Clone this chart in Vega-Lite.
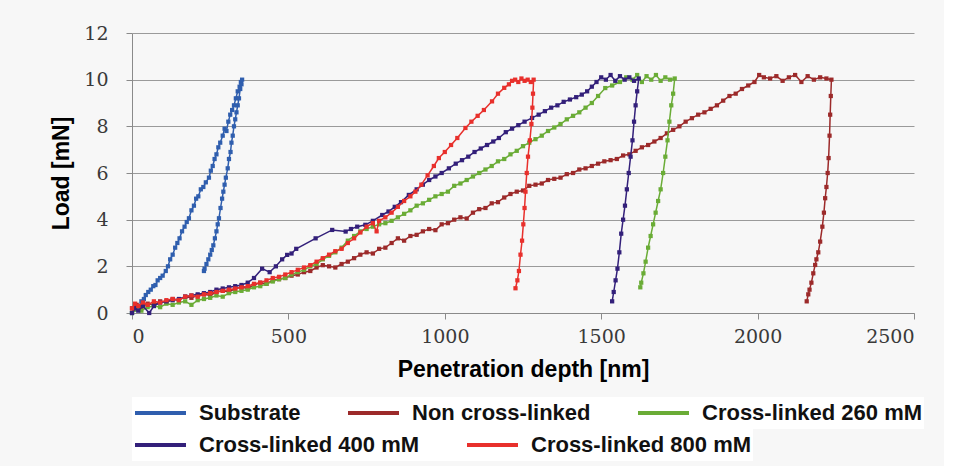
{
  "$schema": "https://vega.github.io/schema/vega-lite/v6.json",
  "width": 782,
  "height": 280,
  "padding": {"left": 50, "top": 24, "right": 20, "bottom": 5},
  "background": "#f7f7f7",
  "config": {
    "view": {"stroke": null},
    "axis": {
      "labelFont": "DejaVu Serif",
      "labelFontSize": 19,
      "labelColor": "#3a3a3a",
      "titleFont": "Liberation Sans",
      "titleFontSize": 23,
      "titleFontWeight": "bold",
      "titleColor": "#000000",
      "domainColor": "#8a8a8a",
      "tickColor": "#8a8a8a",
      "gridColor": "#9a9a9a",
      "gridWidth": 1,
      "tickSize": 6
    },
    "legend": {
      "orient": "bottom",
      "direction": "horizontal",
      "title": null,
      "labelFont": "Liberation Sans",
      "labelFontSize": 22,
      "labelFontWeight": "bold",
      "labelColor": "#111111",
      "labelOffset": 11,
      "symbolType": "stroke",
      "symbolSize": 2600,
      "symbolStrokeWidth": 4,
      "columnPadding": 45,
      "clipHeight": 30,
      "fillColor": "white",
      "padding": 1,
      "offset": 16,
      "labelLimit": 400,
      "layout": {"bottom": {"direction": "vertical", "anchor": "start", "margin": 0}}
    }
  },
  "encoding": {
    "x": {
      "field": "x",
      "type": "quantitative",
      "scale": {"domain": [0, 2500], "nice": false},
      "axis": {"values": [0, 500, 1000, 1500, 2000, 2500], "format": "d", "grid": false, "title": "Penetration depth [nm]", "labelPadding": 8, "titlePadding": 12}
    },
    "y": {
      "field": "y",
      "type": "quantitative",
      "scale": {"domain": [0, 12], "nice": false},
      "axis": {"values": [0, 2, 4, 6, 8, 10, 12], "grid": true, "title": "Load [mN]", "labelPadding": 18, "titlePadding": 10}
    },
    "order": {"value": null}
  },
  "layer": [
    {
      "data": {"values": [
        {"x":0,"y":0},{"x":8,"y":0.15},{"x":15,"y":0.3},{"x":22,"y":0.25},{"x":30,"y":0.5},{"x":38,"y":0.6},{"x":44,"y":0.77},{"x":52,"y":0.9},{"x":60,"y":1.0},{"x":68,"y":1.15},{"x":75,"y":1.2},{"x":82,"y":1.4},{"x":90,"y":1.5},{"x":98,"y":1.6},{"x":108,"y":1.8},{"x":115,"y":2.0},{"x":122,"y":2.3},{"x":130,"y":2.5},{"x":138,"y":2.8},{"x":145,"y":3.0},{"x":152,"y":3.2},{"x":160,"y":3.5},{"x":168,"y":3.7},{"x":175,"y":3.9},{"x":182,"y":4.06},{"x":190,"y":4.4},{"x":198,"y":4.6},{"x":205,"y":4.9},{"x":212,"y":5.0},{"x":220,"y":5.3},{"x":228,"y":5.4},{"x":236,"y":5.6},{"x":246,"y":5.8},{"x":252,"y":6.1},{"x":258,"y":6.3},{"x":264,"y":6.6},{"x":270,"y":6.8},{"x":276,"y":7.1},{"x":282,"y":7.3},{"x":290,"y":7.6},{"x":296,"y":7.9},{"x":302,"y":7.8},{"x":308,"y":8.2},{"x":314,"y":8.5},{"x":320,"y":8.7},{"x":326,"y":8.9},{"x":332,"y":9.2},{"x":338,"y":9.5},{"x":344,"y":9.7},{"x":348,"y":9.9},{"x":352,"y":10.0},
        {"x":350,"y":9.8},{"x":346,"y":9.6},{"x":342,"y":9.2},{"x":338,"y":8.9},{"x":334,"y":8.6},{"x":330,"y":8.3},{"x":326,"y":8.0},{"x":322,"y":7.6},{"x":318,"y":7.3},{"x":315,"y":6.9},{"x":310,"y":6.6},{"x":306,"y":6.2},{"x":300,"y":5.8},{"x":296,"y":5.5},{"x":292,"y":5.2},{"x":288,"y":4.9},{"x":283,"y":4.5},{"x":278,"y":4.06},{"x":274,"y":3.8},{"x":270,"y":3.5},{"x":265,"y":3.2},{"x":260,"y":2.9},{"x":255,"y":2.7},{"x":250,"y":2.5},{"x":244,"y":2.3},{"x":238,"y":2.1},{"x":232,"y":1.9},{"x":230,"y":1.8}
      ]},
      "mark": {"type": "line", "strokeWidth": 1.5, "point": {"shape": "square", "size": 18, "filled": true}},
      "encoding": {
        "color": {
          "datum": "Substrate",
          "type": "nominal",
          "scale": {
            "domain": ["Substrate", "Non cross-linked", "Cross-linked 260 mM"],
            "range": ["#2f5eae", "#9c2a2a", "#6aac36"]
          }
        }
      }
    },
    {
      "data": {"values": [
        {"x":0,"y":0.2},{"x":15,"y":0.35},{"x":30,"y":0.25},{"x":50,"y":0.4},{"x":70,"y":0.35},{"x":90,"y":0.5},{"x":110,"y":0.45},{"x":130,"y":0.6},{"x":150,"y":0.55},{"x":170,"y":0.7},{"x":190,"y":0.65},{"x":210,"y":0.75},{"x":230,"y":0.8},{"x":250,"y":0.75},{"x":270,"y":0.9},{"x":290,"y":0.95},{"x":310,"y":0.9},{"x":330,"y":1.05},{"x":350,"y":1.1},{"x":370,"y":1.05},{"x":390,"y":1.2},{"x":410,"y":1.3},{"x":430,"y":1.25},{"x":450,"y":1.4},{"x":470,"y":1.45},{"x":490,"y":1.5},{"x":510,"y":1.6},{"x":530,"y":1.65},{"x":550,"y":1.75},{"x":570,"y":1.8},{"x":590,"y":1.95},{"x":610,"y":2.05},{"x":630,"y":2.0},{"x":650,"y":1.95},{"x":670,"y":2.1},{"x":690,"y":2.2},{"x":710,"y":2.35},{"x":730,"y":2.5},{"x":750,"y":2.6},{"x":770,"y":2.55},{"x":790,"y":2.75},{"x":810,"y":2.8},{"x":830,"y":3.0},{"x":850,"y":3.2},{"x":870,"y":3.1},{"x":890,"y":3.3},{"x":910,"y":3.35},{"x":930,"y":3.5},{"x":950,"y":3.6},{"x":970,"y":3.55},{"x":990,"y":3.8},{"x":1010,"y":3.85},{"x":1030,"y":4.0},{"x":1050,"y":4.1},{"x":1070,"y":4.05},{"x":1090,"y":4.3},{"x":1110,"y":4.45},{"x":1130,"y":4.5},{"x":1150,"y":4.7},{"x":1170,"y":4.75},{"x":1190,"y":4.95},{"x":1210,"y":5.1},{"x":1230,"y":5.2},{"x":1250,"y":5.25},{"x":1270,"y":5.45},{"x":1290,"y":5.5},{"x":1310,"y":5.55},{"x":1330,"y":5.7},{"x":1350,"y":5.75},{"x":1370,"y":5.8},{"x":1390,"y":5.95},{"x":1410,"y":6.0},{"x":1430,"y":6.15},{"x":1450,"y":6.2},{"x":1470,"y":6.3},{"x":1490,"y":6.4},{"x":1510,"y":6.5},{"x":1530,"y":6.55},{"x":1550,"y":6.6},{"x":1570,"y":6.75},{"x":1590,"y":6.8},{"x":1610,"y":6.95},{"x":1630,"y":7.1},{"x":1650,"y":7.2},{"x":1670,"y":7.35},{"x":1690,"y":7.5},{"x":1710,"y":7.7},{"x":1730,"y":7.85},{"x":1750,"y":8.0},{"x":1770,"y":8.2},{"x":1790,"y":8.35},{"x":1810,"y":8.5},{"x":1830,"y":8.6},{"x":1850,"y":8.75},{"x":1870,"y":8.9},{"x":1890,"y":9.1},{"x":1910,"y":9.3},{"x":1930,"y":9.4},{"x":1950,"y":9.6},{"x":1970,"y":9.75},{"x":1990,"y":9.9},{"x":2005,"y":10.2},{"x":2020,"y":10.1},{"x":2040,"y":10.05},{"x":2060,"y":10.15},{"x":2080,"y":9.95},{"x":2100,"y":10.1},{"x":2120,"y":10.2},{"x":2140,"y":9.9},{"x":2160,"y":10.15},{"x":2180,"y":10.0},{"x":2200,"y":10.1},{"x":2220,"y":10.05},{"x":2236,"y":10.0},
        {"x":2234,"y":9.3},{"x":2232,"y":8.5},{"x":2230,"y":7.6},{"x":2227,"y":6.64},{"x":2224,"y":6.0},{"x":2220,"y":5.4},{"x":2216,"y":4.92},{"x":2212,"y":4.3},{"x":2207,"y":3.7},{"x":2200,"y":3.06},{"x":2194,"y":2.6},{"x":2188,"y":2.3},{"x":2184,"y":2.06},{"x":2178,"y":1.7},{"x":2172,"y":1.3},{"x":2166,"y":1.0},{"x":2162,"y":0.8},{"x":2157,"y":0.5}
      ]},
      "mark": {"type": "line", "strokeWidth": 1.5, "point": {"shape": "square", "size": 18, "filled": true}},
      "encoding": {"color": {"datum": "Non cross-linked", "type": "nominal"}}
    },
    {
      "data": {"values": [
        {"x":0,"y":0},{"x":15,"y":0.15},{"x":30,"y":0.1},{"x":50,"y":0.25},{"x":70,"y":0.3},{"x":90,"y":0.25},{"x":110,"y":0.4},{"x":130,"y":0.35},{"x":150,"y":0.45},{"x":170,"y":0.5},{"x":190,"y":0.35},{"x":210,"y":0.55},{"x":230,"y":0.6},{"x":250,"y":0.65},{"x":270,"y":0.75},{"x":290,"y":0.7},{"x":310,"y":0.85},{"x":330,"y":0.9},{"x":350,"y":0.95},{"x":370,"y":1.0},{"x":390,"y":1.1},{"x":410,"y":1.15},{"x":430,"y":1.25},{"x":450,"y":1.35},{"x":470,"y":1.45},{"x":490,"y":1.5},{"x":510,"y":1.65},{"x":530,"y":1.75},{"x":550,"y":1.85},{"x":570,"y":2.0},{"x":590,"y":2.1},{"x":610,"y":2.3},{"x":630,"y":2.45},{"x":650,"y":2.6},{"x":670,"y":2.8},{"x":690,"y":3.1},{"x":710,"y":3.3},{"x":730,"y":3.5},{"x":750,"y":3.6},{"x":770,"y":3.7},{"x":790,"y":3.8},{"x":810,"y":3.85},{"x":830,"y":3.95},{"x":850,"y":4.1},{"x":870,"y":4.25},{"x":890,"y":4.4},{"x":910,"y":4.6},{"x":930,"y":4.7},{"x":950,"y":4.85},{"x":970,"y":5.0},{"x":990,"y":5.1},{"x":1010,"y":5.2},{"x":1030,"y":5.45},{"x":1050,"y":5.55},{"x":1070,"y":5.7},{"x":1090,"y":5.85},{"x":1110,"y":6.0},{"x":1130,"y":6.15},{"x":1150,"y":6.3},{"x":1170,"y":6.5},{"x":1190,"y":6.6},{"x":1210,"y":6.8},{"x":1230,"y":6.95},{"x":1250,"y":7.15},{"x":1270,"y":7.3},{"x":1290,"y":7.45},{"x":1310,"y":7.6},{"x":1330,"y":7.8},{"x":1350,"y":7.95},{"x":1370,"y":8.1},{"x":1390,"y":8.3},{"x":1410,"y":8.45},{"x":1430,"y":8.6},{"x":1450,"y":8.8},{"x":1470,"y":9.0},{"x":1490,"y":9.3},{"x":1513,"y":9.64},{"x":1535,"y":9.75},{"x":1560,"y":9.9},{"x":1580,"y":10.1},{"x":1600,"y":10.0},{"x":1615,"y":10.2},{"x":1630,"y":9.9},{"x":1645,"y":10.15},{"x":1660,"y":10.0},{"x":1675,"y":10.2},{"x":1690,"y":9.95},{"x":1705,"y":10.1},{"x":1720,"y":10.0},{"x":1735,"y":10.05},
        {"x":1730,"y":9.4},{"x":1724,"y":8.9},{"x":1718,"y":8.2},{"x":1712,"y":7.4},{"x":1705,"y":6.7},{"x":1698,"y":6.0},{"x":1690,"y":5.3},{"x":1682,"y":4.8},{"x":1674,"y":4.3},{"x":1666,"y":3.8},{"x":1658,"y":3.3},{"x":1650,"y":2.8},{"x":1642,"y":2.2},{"x":1635,"y":1.7},{"x":1628,"y":1.3},{"x":1625,"y":1.1}
      ]},
      "mark": {"type": "line", "strokeWidth": 1.5, "point": {"shape": "square", "size": 18, "filled": true}},
      "encoding": {"color": {"datum": "Cross-linked 260 mM", "type": "nominal"}}
    },
    {
      "data": {"values": [
        {"x":0,"y":0},{"x":10,"y":0.2},{"x":20,"y":0.1},{"x":35,"y":0.3},{"x":55,"y":0.0},{"x":70,"y":0.3},{"x":90,"y":0.45},{"x":110,"y":0.5},{"x":130,"y":0.55},{"x":150,"y":0.6},{"x":170,"y":0.7},{"x":190,"y":0.75},{"x":210,"y":0.8},{"x":230,"y":0.85},{"x":250,"y":0.9},{"x":270,"y":1.0},{"x":290,"y":1.05},{"x":310,"y":1.1},{"x":330,"y":1.15},{"x":350,"y":1.2},{"x":370,"y":1.3},{"x":390,"y":1.5},{"x":416,"y":1.9},{"x":440,"y":1.75},{"x":460,"y":2.0},{"x":480,"y":2.3},{"x":496,"y":2.49},{"x":510,"y":2.55},{"x":525,"y":2.75},{"x":587,"y":3.2},{"x":640,"y":3.56},{"x":683,"y":3.49},{"x":700,"y":3.6},{"x":720,"y":3.7},{"x":746,"y":3.78},{"x":770,"y":3.95},{"x":800,"y":4.2},{"x":820,"y":4.35},{"x":840,"y":4.55},{"x":860,"y":4.75},{"x":885,"y":5.06},{"x":910,"y":5.3},{"x":930,"y":5.5},{"x":950,"y":5.7},{"x":970,"y":5.85},{"x":990,"y":6.0},{"x":1013,"y":6.2},{"x":1035,"y":6.4},{"x":1055,"y":6.55},{"x":1075,"y":6.7},{"x":1095,"y":6.9},{"x":1115,"y":7.05},{"x":1135,"y":7.2},{"x":1155,"y":7.35},{"x":1173,"y":7.5},{"x":1195,"y":7.75},{"x":1215,"y":7.9},{"x":1235,"y":8.05},{"x":1255,"y":8.2},{"x":1279,"y":8.36},{"x":1300,"y":8.5},{"x":1320,"y":8.65},{"x":1340,"y":8.8},{"x":1360,"y":8.9},{"x":1380,"y":9.05},{"x":1400,"y":9.15},{"x":1420,"y":9.25},{"x":1438,"y":9.36},{"x":1455,"y":9.5},{"x":1470,"y":9.7},{"x":1485,"y":9.9},{"x":1500,"y":10.1},{"x":1515,"y":10.0},{"x":1530,"y":10.2},{"x":1545,"y":9.95},{"x":1560,"y":10.15},{"x":1575,"y":10.0},{"x":1590,"y":10.1},{"x":1605,"y":9.95},{"x":1620,"y":10.05},
        {"x":1615,"y":9.5},{"x":1610,"y":8.9},{"x":1605,"y":8.2},{"x":1600,"y":7.4},{"x":1594,"y":6.7},{"x":1588,"y":6.0},{"x":1582,"y":5.3},{"x":1576,"y":4.6},{"x":1570,"y":4.0},{"x":1564,"y":3.4},{"x":1558,"y":2.6},{"x":1552,"y":1.9},{"x":1546,"y":1.4},{"x":1540,"y":0.9},{"x":1535,"y":0.5}
      ]},
      "mark": {"type": "line", "strokeWidth": 1.5, "color": "#33207a", "point": {"shape": "square", "size": 18, "filled": true, "color": "#33207a", "strokeWidth": 0}},
      "encoding": {
        "stroke": {
          "datum": "Cross-linked 400 mM",
          "type": "nominal",
          "scale": {
            "domain": ["Cross-linked 400 mM", "Cross-linked 800 mM"],
            "range": ["#33207a", "#e8302c"]
          },
          "legend": {"offset": 0}
        }
      }
    },
    {
      "data": {"values": [
        {"x":0,"y":0.2},{"x":10,"y":0.4},{"x":20,"y":0.3},{"x":35,"y":0.45},{"x":50,"y":0.35},{"x":70,"y":0.5},{"x":90,"y":0.45},{"x":110,"y":0.55},{"x":130,"y":0.6},{"x":150,"y":0.55},{"x":170,"y":0.7},{"x":190,"y":0.75},{"x":210,"y":0.7},{"x":230,"y":0.8},{"x":250,"y":0.85},{"x":270,"y":0.9},{"x":290,"y":0.95},{"x":310,"y":1.0},{"x":330,"y":1.05},{"x":350,"y":1.1},{"x":370,"y":1.15},{"x":390,"y":1.25},{"x":410,"y":1.3},{"x":430,"y":1.4},{"x":450,"y":1.5},{"x":470,"y":1.55},{"x":490,"y":1.65},{"x":510,"y":1.75},{"x":530,"y":1.85},{"x":550,"y":1.95},{"x":570,"y":2.05},{"x":590,"y":2.2},{"x":610,"y":2.35},{"x":630,"y":2.5},{"x":650,"y":2.65},{"x":670,"y":2.75},{"x":690,"y":3.0},{"x":710,"y":3.2},{"x":730,"y":3.45},{"x":750,"y":3.7},{"x":770,"y":3.85},{"x":782,"y":3.5},{"x":790,"y":3.95},{"x":810,"y":4.1},{"x":830,"y":4.3},{"x":850,"y":4.55},{"x":870,"y":4.8},{"x":890,"y":5.0},{"x":906,"y":5.2},{"x":925,"y":5.5},{"x":945,"y":5.9},{"x":965,"y":6.3},{"x":981,"y":6.64},{"x":1000,"y":6.9},{"x":1020,"y":7.2},{"x":1040,"y":7.5},{"x":1066,"y":7.93},{"x":1085,"y":8.2},{"x":1105,"y":8.45},{"x":1125,"y":8.7},{"x":1151,"y":9.07},{"x":1170,"y":9.4},{"x":1190,"y":9.65},{"x":1205,"y":9.8},{"x":1215,"y":9.95},{"x":1225,"y":10.0},{"x":1235,"y":9.9},{"x":1245,"y":10.05},{"x":1255,"y":9.95},{"x":1265,"y":10.0},{"x":1275,"y":9.9},{"x":1284,"y":10.0},
        {"x":1282,"y":9.4},{"x":1280,"y":8.8},{"x":1277,"y":8.1},{"x":1272,"y":7.4},{"x":1266,"y":6.7},{"x":1262,"y":6.0},{"x":1258,"y":5.2},{"x":1255,"y":4.5},{"x":1251,"y":3.8},{"x":1247,"y":3.1},{"x":1242,"y":2.5},{"x":1237,"y":1.8},{"x":1232,"y":1.4},{"x":1226,"y":1.06}
      ]},
      "mark": {"type": "line", "strokeWidth": 1.5, "color": "#e8302c", "point": {"shape": "square", "size": 18, "filled": true, "color": "#e8302c", "strokeWidth": 0}},
      "encoding": {"stroke": {"datum": "Cross-linked 800 mM", "type": "nominal"}}
    }
  ]
}
